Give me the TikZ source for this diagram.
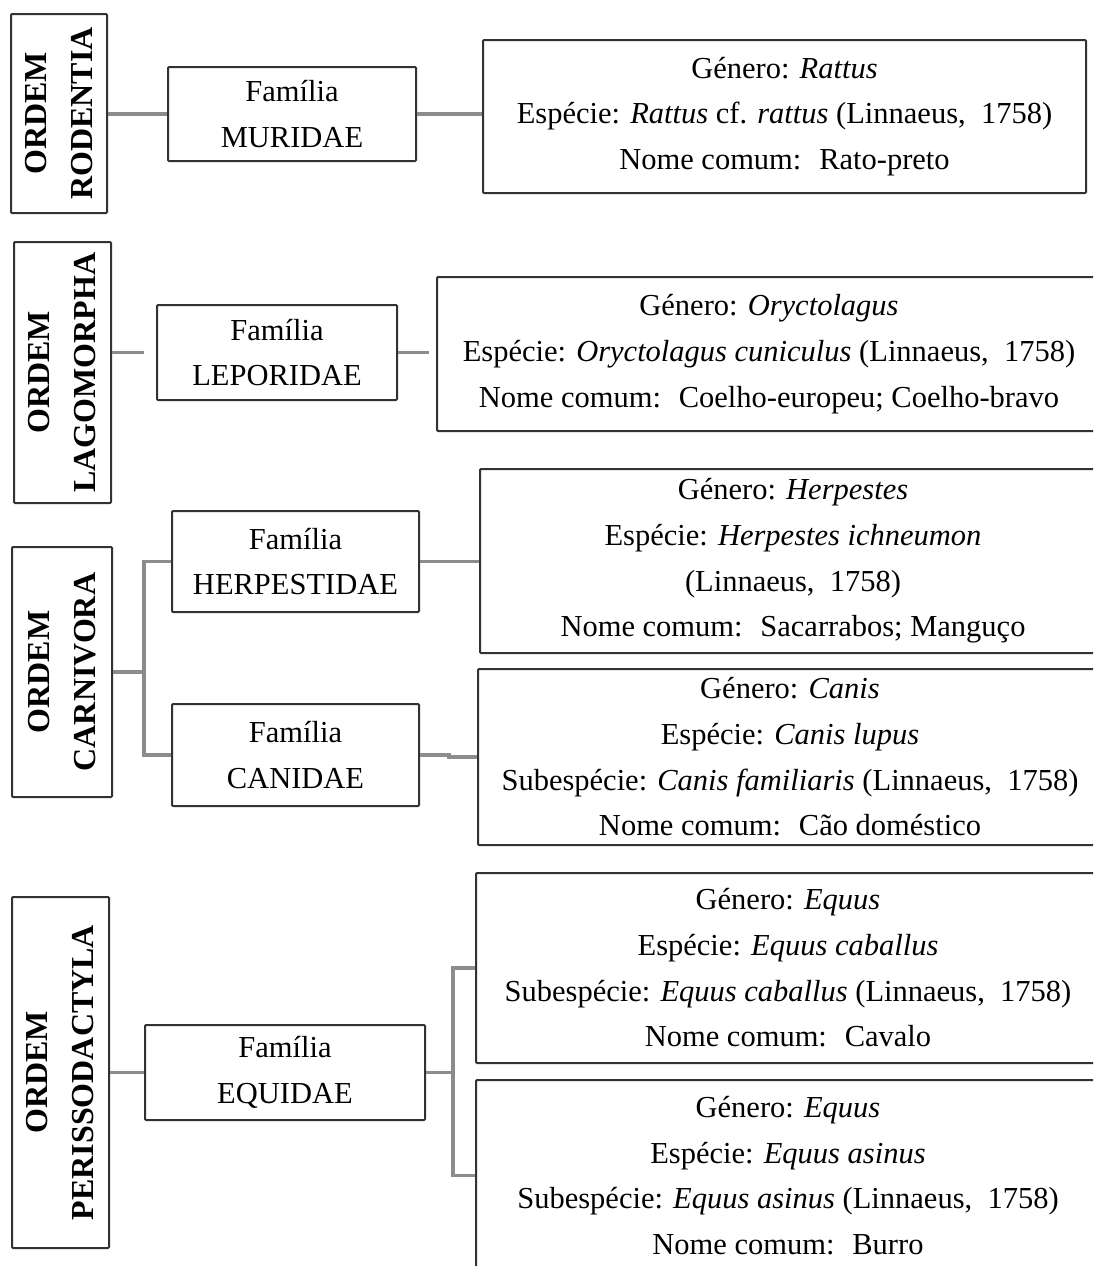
\documentclass[tikz,border=0pt]{standalone}
\usepackage{fontspec}
\setmainfont{Liberation Serif}
\usetikzlibrary{calc}
\definecolor{boxline}{RGB}{50,50,50}
\definecolor{connline}{RGB}{140,140,140}
\begin{document}
\begin{tikzpicture}[x=1pt,y=-1pt,
  box/.style={draw=boxline, line width=2pt, rounded corners=1pt, inner sep=0pt,
    align=center, font=\fontsize{30.5}{45.7}\selectfont},
  ordbox/.style={box, rotate=90, font=\fontsize{32}{46}\selectfont\bfseries},
  conn/.style={draw=connline, line width=3.4pt},
]
\clip (0,0) rectangle (1093,1266);
\fill[white] (0,0) rectangle (1093,1266);

% --- Ordem Rodentia
\node[ordbox, minimum width=199pt, minimum height=96pt] (ordR) at (59,113.5) {ORDEM\\RODENTIA};
\node[box, minimum width=248pt, minimum height=94pt] (famR) at (292,114) {Família\\MURIDAE};
\node[box, minimum width=603pt, minimum height=153pt] (ratt) at (784.5,116.5)
  {Género: \textit{Rattus}\\Espécie: \textit{Rattus} cf. \textit{rattus} (Linnaeus,~ 1758)\\Nome comum:~ Rato-preto};

% --- Ordem Lagomorpha
\node[ordbox, minimum width=261pt, minimum height=97pt] (ordL) at (62.5,372.5) {ORDEM\\LAGOMORPHA};
\node[box, minimum width=240pt, minimum height=95pt] (famL) at (277,352.5) {Família\\LEPORIDAE};
\node[box, minimum width=664pt, minimum height=154pt] (oryc) at (769,354)
  {Género: \textit{Oryctolagus}\\Espécie: \textit{Oryctolagus cuniculus} (Linnaeus,~ 1758)\\Nome comum:~ Coelho-europeu; Coelho-bravo};

% --- Ordem Carnivora
\node[ordbox, minimum width=250pt, minimum height=100pt] (ordC) at (62,672) {ORDEM\\CARNIVORA};
\node[box, minimum width=247pt, minimum height=101pt] (famH) at (295.5,561.5) {Família\\HERPESTIDAE};
\node[box, minimum width=247pt, minimum height=102pt] (famC) at (295.5,755) {Família\\CANIDAE};
\node[box, minimum width=626pt, minimum height=184pt] (herp) at (793,561)
  {Género: \textit{Herpestes}\\Espécie: \textit{Herpestes ichneumon}\\(Linnaeus,~ 1758)\\Nome comum:~ Sacarrabos; Manguço};
\node[box, minimum width=624pt, minimum height=176pt] (canis) at (790,757)
  {Género: \textit{Canis}\\Espécie: \textit{Canis lupus}\\Subespécie: \textit{Canis familiaris} (Linnaeus,~ 1758)\\Nome comum:~ Cão doméstico};

% --- Ordem Perissodactyla
\node[ordbox, minimum width=351pt, minimum height=97pt] (ordP) at (60.5,1072.5) {ORDEM\\PERISSODACTYLA};
\node[box, minimum width=280pt, minimum height=95pt] (famE) at (285,1072.5) {Família\\EQUIDAE};
\node[box, minimum width=624pt, minimum height=190pt] (cab) at (788,968)
  {Género: \textit{Equus}\\Espécie: \textit{Equus caballus}\\Subespécie: \textit{Equus caballus} (Linnaeus,~ 1758)\\Nome comum:~ Cavalo};
\node[box, minimum width=624pt, minimum height=191pt] (asi) at (788,1175.5)
  {Género: \textit{Equus}\\Espécie: \textit{Equus asinus}\\Subespécie: \textit{Equus asinus} (Linnaeus,~ 1758)\\Nome comum:~ Burro};

% --- connectors
\draw[conn] (famR.west -| ordR.south) -- (famR.west);
\draw[conn] (famR.east) -- (famR.east -| ratt.west);

\draw[conn, shorten >=12pt] (famL.west -| ordL.south) -- (famL.west);
\draw[conn, shorten >=7pt] (famL.east) -- (famL.east -| oryc.west);

\draw[conn] (ordC.south) -- ++(31,0) coordinate (jC);
\draw[conn] (famH.west) -| (jC) |- (famC.west);
\draw[conn] (famH.east) -- (famH.east -| herp.west);
\draw[conn] (famC.east) -- ++(29,0) |- (canis.west);

\draw[conn] (famE.west -| ordP.south) -- (famE.west);
\draw[conn] (famE.east) -- ++(27,0) coordinate (jE);
\draw[conn] (cab.west) -| (jE) |- (asi.west);
\end{tikzpicture}
\end{document}
